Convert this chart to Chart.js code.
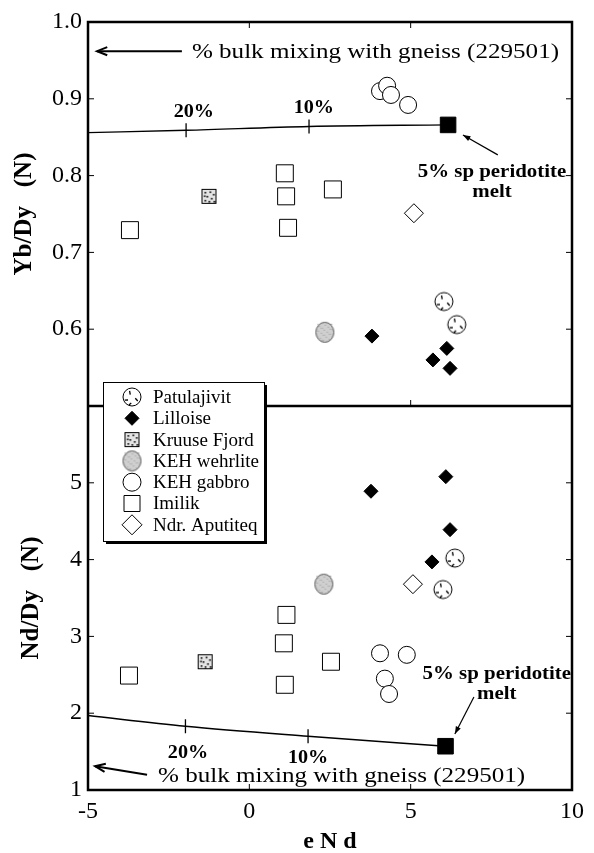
<!DOCTYPE html>
<html>
<head>
<meta charset="utf-8">
<script src="https://cdn.jsdelivr.net/npm/chart.js@4.4.0/dist/chart.umd.min.js"></script>
<style>
  html, body { margin: 0; background: #fff; }
  canvas { display: block; }
</style>
</head>
<body>
<canvas id="chart" width="594" height="853"></canvas>
<script>
// axis ticks
const xTicks = [-5, 0, 5, 10];
const ybTicks = [0.5, 0.6, 0.7, 0.8, 0.9, 1.0];
const ndTicks = [1, 2, 3, 4, 5, 6];

const groups = ['Patulajivit', 'Lilloise', 'Kruuse Fjord', 'KEH wehrlite', 'KEH gabbro', 'Imilik', 'Ndr. Aputiteq'];

// top panel: [eNd, Yb/Dy (N)]
const patulajivitYb = [[6.03, 0.636], [6.43, 0.606]];
const lilloiseYb = [[3.80, 0.591], [6.12, 0.575], [5.69, 0.560], [6.22, 0.549]];
const kruuseYb = [[-1.25, 0.773]];
const wehrliteYb = [[2.34, 0.596]];
const gabbroYb = [[4.05, 0.910], [4.27, 0.917], [4.39, 0.905], [4.92, 0.892]];
const imilikYb = [[-3.70, 0.729], [1.10, 0.803], [1.14, 0.773], [1.20, 0.732], [2.59, 0.782]];
const aputiteqYb = [[5.10, 0.751]];

// bottom panel: [eNd, Nd/Dy (N)]
const patulajivitNd = [[6.37, 4.02], [6.00, 3.61]];
const lilloiseNd = [[6.09, 5.08], [3.77, 4.89], [6.22, 4.39], [5.66, 3.97]];
const kruuseNd = [[-1.37, 2.67]];
const wehrliteNd = [[2.31, 3.68]];
const gabbroNd = [[4.05, 2.78], [4.88, 2.76], [4.20, 2.45], [4.33, 2.25]];
const imilikNd = [[-3.73, 2.49], [1.07, 2.91], [1.15, 3.28], [1.10, 2.37], [2.53, 2.67]];
const aputiteqNd = [[5.07, 3.68]];

// bulk mixing curves with gneiss, ending at 5% sp peridotite melt
const mixYbX = [-5, -1.96, 1.85, 6.16];
const mixYbY = [0.856, 0.859, 0.864, 0.866];
const mixNdX = [-5, -1.98, 1.82, 6.08];
const mixNdY = [1.97, 1.83, 1.70, 1.57];

const serif = '"Liberation Serif", "Times New Roman", serif';
Chart.defaults.font.family = serif;
Chart.defaults.color = '#000';

// special marker images
function makeCanvas(w, h) {
  const c = document.createElement('canvas');
  c.width = w; c.height = h;
  return c;
}
function patulajivitIcon() {
  const c = makeCanvas(22, 22), g = c.getContext('2d');
  g.fillStyle = '#fff'; g.strokeStyle = '#000'; g.lineWidth = 1;
  g.beginPath(); g.arc(11, 11, 9, 0, Math.PI * 2); g.fill(); g.stroke();
  g.lineWidth = 1.3;
  [[-2.2, 3, 6.5], [0.35, 3.5, 7], [2.5, 5, 8], [1.7, 6, 8.5]].forEach(([a, r0, r1]) => {
    g.beginPath();
    g.moveTo(11 + Math.cos(a) * r0, 11 + Math.sin(a) * r0);
    g.lineTo(11 + Math.cos(a + 0.25) * r1, 11 + Math.sin(a + 0.25) * r1);
    g.stroke();
  });
  return c;
}
function kruuseIcon() {
  const c = makeCanvas(17, 17), g = c.getContext('2d');
  g.fillStyle = '#e4e4e4'; g.fillRect(1, 1, 15, 15);
  g.strokeStyle = '#000'; g.lineWidth = 1; g.strokeRect(1.5, 1.5, 14, 14);
  g.fillStyle = '#000';
  [[4, 4], [9, 3.5], [12.5, 6], [6, 8], [10.5, 10], [4, 12], [8, 13], [13, 13], [3.5, 7.5]].forEach(([x, y]) => {
    g.fillRect(x, y, 1.6, 1.6);
  });
  return c;
}
function wehrliteIcon() {
  const c = makeCanvas(21, 23), g = c.getContext('2d');
  g.fillStyle = '#cfcfcf'; g.strokeStyle = '#555'; g.lineWidth = 1;
  g.beginPath(); g.ellipse(10.5, 11.5, 9, 10, 0, 0, Math.PI * 2); g.fill();
  g.fillStyle = '#b4b4b4';
  for (let i = 0; i < 40; i++) {
    const px = 3 + (i * 7) % 15, py = 3 + (i * 11) % 17;
    g.fillRect(px, py, 1, 1);
  }
  g.stroke();
  return c;
}
const patImg = patulajivitIcon();
const kruImg = kruuseIcon();
const wehImg = wehrliteIcon();

const styles = [
  { pointStyle: patImg, radius: 9 },
  { pointStyle: 'rectRot', radius: 7, backgroundColor: '#000', borderWidth: 1 },
  { pointStyle: kruImg, radius: 8 },
  { pointStyle: wehImg, radius: 9 },
  { pointStyle: 'circle', radius: 8.5, backgroundColor: '#fff', borderWidth: 1 },
  { pointStyle: 'rect', radius: 12, backgroundColor: '#fff', borderWidth: 1 },
  { pointStyle: 'rectRot', radius: 9.5, backgroundColor: '#fff', borderWidth: 1 }
];

const ybSets = [patulajivitYb, lilloiseYb, kruuseYb, wehrliteYb, gabbroYb, imilikYb, aputiteqYb];
const ndSets = [patulajivitNd, lilloiseNd, kruuseNd, wehrliteNd, gabbroNd, imilikNd, aputiteqNd];

const toXY = arr => arr.map(([x, y]) => ({ x, y }));
const zip = (xs, ys) => xs.map((x, i) => ({ x, y: ys[i] }));

function mixLine(xs, ys, axis) {
  return {
    label: 'mixing',
    data: zip(xs, ys),
    yAxisID: axis,
    showLine: true,
    borderColor: '#000',
    borderWidth: 1.4,
    cubicInterpolationMode: 'monotone',
    pointStyle: ['circle', 'line', 'line', 'rect'],
    pointRotation: [0, 90, 90, 0],
    pointRadius: [0, 7, 7, 11],
    pointBackgroundColor: '#000',
    pointBorderColor: '#000',
    pointBorderWidth: [0, 1.3, 1.3, 1],
    order: 10
  };
}

const datasets = [mixLine(mixYbX, mixYbY, 'yTop'), mixLine(mixNdX, mixNdY, 'yBot')];
groups.forEach((name, i) => {
  const s = styles[i];
  [[ybSets[i], 'yTop'], [ndSets[i], 'yBot']].forEach(([arr, axis]) => {
    datasets.push({
      label: name,
      data: toXY(arr),
      yAxisID: axis,
      pointStyle: s.pointStyle,
      pointRadius: s.radius,
      pointBackgroundColor: s.backgroundColor || '#fff',
      pointBorderColor: '#000',
      pointBorderWidth: s.borderWidth || 0,
      order: 1
    });
  });
});

function arrow(ctx, x1, y1, x2, y2, head, spread, filled) {
  const a = Math.atan2(y2 - y1, x2 - x1);
  ctx.beginPath();
  ctx.moveTo(x1, y1);
  ctx.lineTo(x2, y2);
  ctx.stroke();
  ctx.beginPath();
  ctx.moveTo(x2 - head * Math.cos(a - spread), y2 - head * Math.sin(a - spread));
  ctx.lineTo(x2, y2);
  ctx.lineTo(x2 - head * Math.cos(a + spread), y2 - head * Math.sin(a + spread));
  if (filled) { ctx.closePath(); ctx.fill(); } else ctx.stroke();
}

// the printed figure uses a wider serif, so stretch annotation text a little
function wideText(ctx, text, x, y, sx) {
  ctx.save();
  ctx.translate(x, y);
  ctx.scale(sx, 1);
  ctx.fillText(text, 0, 0);
  ctx.restore();
}

const decor = {
  id: 'decor',
  afterDatasetsDraw(chart) {
    const { ctx, chartArea: a, scales } = chart;
    const X = v => scales.x.getPixelForValue(v);
    const T = v => scales.yTop.getPixelForValue(v);
    const B = v => scales.yBot.getPixelForValue(v);
    const mid = T(0.5);
    ctx.save();
    ctx.strokeStyle = '#000';
    ctx.fillStyle = '#000';

    // frame and panel divider
    ctx.lineWidth = 2.5;
    ctx.strokeRect(a.left, a.top, a.right - a.left, a.bottom - a.top);
    ctx.beginPath(); ctx.moveTo(a.left, mid); ctx.lineTo(a.right, mid); ctx.stroke();

    // inward tick marks
    const tk = 6;
    ctx.lineWidth = 1;
    ctx.beginPath();
    const ys = ybTicks.slice(1, -1).map(T).concat(ndTicks.slice(1, -1).map(B));
    ys.forEach(y => {
      ctx.moveTo(a.left, y); ctx.lineTo(a.left + tk, y);
      ctx.moveTo(a.right, y); ctx.lineTo(a.right - tk, y);
    });
    xTicks.slice(1, -1).map(X).forEach(x => {
      ctx.moveTo(x, a.top); ctx.lineTo(x, a.top + tk);
      ctx.moveTo(x, mid); ctx.lineTo(x, mid - tk);
      ctx.moveTo(x, a.bottom); ctx.lineTo(x, a.bottom - tk);
    });
    ctx.stroke();

    // annotations
    ctx.textBaseline = 'middle';
    ctx.textAlign = 'left';
    ctx.font = '22px ' + serif;
    wideText(ctx, '% bulk mixing with gneiss (229501)', X(-1.78), T(0.961), 1.14);
    wideText(ctx, '% bulk mixing with gneiss (229501)', X(-2.83), B(1.18), 1.14);
    ctx.lineWidth = 2;
    arrow(ctx, X(-2.09), T(0.962), X(-4.72), T(0.962), 11, 0.38, false);
    arrow(ctx, X(-3.17), B(1.20), X(-4.78), B(1.31), 11, 0.38, false);

    ctx.font = 'bold 18px ' + serif;
    ctx.textAlign = 'center';
    wideText(ctx, '20%', X(-1.72), T(0.883), 1.12);
    wideText(ctx, '10%', X(2.0), T(0.888), 1.12);
    wideText(ctx, '20%', X(-1.90), B(1.48), 1.12);
    wideText(ctx, '10%', X(1.82), B(1.41), 1.12);
    wideText(ctx, '5% sp peridotite', X(7.52), T(0.804), 1.16);
    wideText(ctx, 'melt', X(7.52), T(0.778), 1.16);
    wideText(ctx, '5% sp peridotite', X(7.67), B(2.51), 1.16);
    wideText(ctx, 'melt', X(7.67), B(2.25), 1.16);
    ctx.lineWidth = 1.2;
    arrow(ctx, X(7.70), T(0.827), X(6.62), T(0.853), 8, 0.35, true);
    arrow(ctx, X(6.96), B(2.21), X(6.37), B(1.73), 8, 0.35, true);
    ctx.restore();
  },
  afterDraw(chart) {
    // legend box
    const { ctx } = chart;
    const L = 103, Tp = 382, W = 161, H = 159;
    ctx.save();
    ctx.fillStyle = '#000';
    ctx.fillRect(L + 3, Tp + 3, W, H);
    ctx.fillStyle = '#fff';
    ctx.fillRect(L, Tp, W, H);
    ctx.strokeStyle = '#000';
    ctx.lineWidth = 1;
    ctx.strokeRect(L + 0.5, Tp + 0.5, W, H);
    ctx.font = '19px ' + serif;
    ctx.textBaseline = 'middle';
    ctx.textAlign = 'left';
    groups.forEach((name, i) => {
      const cy = Tp + 15 + i * 21.3, cx = L + 29;
      const s = styles[i];
      if (typeof s.pointStyle !== 'string') {
        const img = s.pointStyle;
        ctx.drawImage(img, cx - img.width / 2, cy - img.height / 2);
      } else {
        ctx.fillStyle = s.backgroundColor;
        ctx.strokeStyle = '#000';
        ctx.lineWidth = 1;
        ctx.beginPath();
        if (s.pointStyle === 'circle') {
          ctx.arc(cx, cy, 9, 0, Math.PI * 2);
        } else if (s.pointStyle === 'rect') {
          ctx.rect(cx - 8, cy - 8, 16, 16);
        } else {
          const r = s.radius === 7 ? 7 : 10;
          ctx.moveTo(cx, cy - r); ctx.lineTo(cx + r, cy); ctx.lineTo(cx, cy + r); ctx.lineTo(cx - r, cy); ctx.closePath();
        }
        ctx.fill(); ctx.stroke();
      }
      ctx.fillStyle = '#000';
      ctx.fillText(name, L + 50, cy + 1);
    });
    ctx.restore();
  }
};

const tickFont = { size: 24, family: serif };

new Chart(document.getElementById('chart'), {
  type: 'scatter',
  data: { datasets },
  options: {
    responsive: false,
    animation: false,
    events: [],
    layout: { padding: { top: 22, right: 22, left: 0, bottom: 0 } },
    plugins: { legend: { display: false }, tooltip: { enabled: false } },
    scales: {
      x: {
        type: 'linear', min: -5, max: 10,
        afterBuildTicks: s => { s.ticks = xTicks.map(v => ({ value: v })); },
        afterFit: s => { s.height = 63; },
        grid: { display: false, drawTicks: false },
        border: { display: false },
        ticks: { font: tickFont, padding: 7, maxRotation: 0 },
        title: { display: true, text: 'e N d', font: { size: 24, weight: 'bold', family: serif, lineHeight: 1 }, padding: { top: 0, bottom: -1 } }
      },
      // stacked left axes: the later one is placed on top
      yBot: {
        type: 'linear', position: 'left', stack: 'panels', stackWeight: 1,
        min: 1, max: 6,
        afterBuildTicks: s => { s.ticks = ndTicks.map(v => ({ value: v })); },
        afterFit: s => { s.width = 88; },
        grid: { display: false, drawTicks: false },
        border: { display: false },
        ticks: { font: tickFont, padding: 6, callback: v => (v === 6 ? '' : String(v)) },
        title: { display: true, text: 'Nd/Dy   (N)', font: { size: 25, weight: 'bold', family: serif }, padding: { top: 17, bottom: 0 } }
      },
      yTop: {
        type: 'linear', position: 'left', stack: 'panels', stackWeight: 1,
        min: 0.5, max: 1.0,
        afterBuildTicks: s => { s.ticks = ybTicks.map(v => ({ value: v })); },
        afterFit: s => { s.width = 88; },
        grid: { display: false, drawTicks: false },
        border: { display: false },
        ticks: { font: tickFont, padding: 6, callback: v => (v === 0.5 ? '' : v.toFixed(1)) },
        title: { display: true, text: 'Yb/Dy   (N)', font: { size: 25, weight: 'bold', family: serif }, padding: { top: 10, bottom: 0 } }
      }
    }
  },
  plugins: [decor]
});
</script>
</body>
</html>
